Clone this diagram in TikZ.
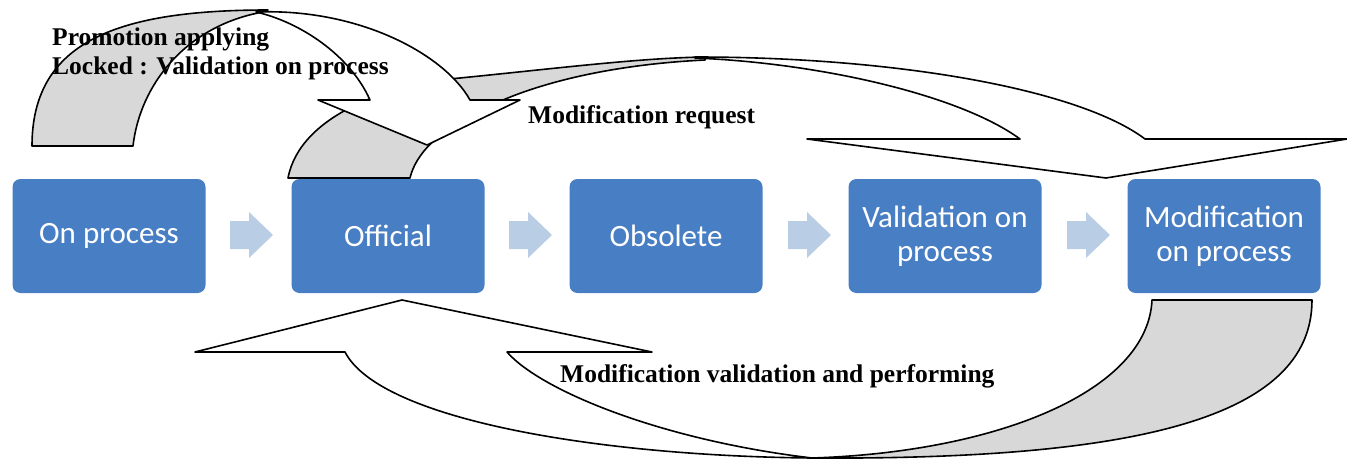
\documentclass[tikz,border=0pt]{standalone}
\usepackage{fontspec}
\setmainfont{Liberation Serif}
\newfontfamily\boxfont{Carlito}
\definecolor{boxblue}{RGB}{72,126,195}
\definecolor{chevblue}{RGB}{185,205,229}
\definecolor{bandgrey}{RGB}{216,216,216}
\begin{document}
\begin{tikzpicture}[x=1pt,y=-1pt,
  stagebox/.style={rounded corners=8pt,fill=boxblue,text=white,minimum width=193pt,minimum height=114pt,inner sep=0pt,align=center,font=\boxfont\fontsize{31}{34}\selectfont},
  band/.style={draw=black,line width=1.6pt,line join=round},
  backband/.style={band,fill=bandgrey},
  frontband/.style={band,fill=white},
  chev/.style={fill=chevblue,draw=none},
  lbl/.style={anchor=base west,inner sep=0pt,font=\bfseries\fontsize{25.5}{21}\selectfont}]
\useasboundingbox (0,0) rectangle (1347,458);
% stage boxes
\node[stagebox] (onproc) at (109,236) {On process};
\node[stagebox] (official) at (388,236) {Official};
\node[stagebox] (obsolete) at (666,236) {Obsolete};
\node[stagebox] (valid) at (945,236) {Validation on\\process};
\node[stagebox] (modif) at (1224,236) {Modification\\on process};
% chevrons
\foreach \cx in {230,509,788,1067}{
  \fill[chev] (\cx,221) -- (\cx+19,221) -- (\cx+19,212) -- (\cx+43,235) -- (\cx+19,258) -- (\cx+19,249) -- (\cx,249) -- cycle;
}
% arrow 3: Modification validation and performing
\draw[backband] (1152,300) -- (1312,300) .. controls (1312,420) and (1130,460) .. (812,458)
  .. controls (1000,452) and (1148,390) .. (1152,300) -- cycle;
\draw[frontband] (812,458) .. controls (600,456) and (380,420) .. (345,352) -- (195,352) -- (402,300)
  -- (652,352) -- (507,352) .. controls (540,390) and (660,440) .. (812,458) -- cycle;
% arrow 2: Modification request
\draw[backband] (288,178) .. controls (300,115) and (390,84) .. (460,78)
  .. controls (560,68) and (640,58) .. (705,57) -- (705,60)
  .. controls (620,64) and (550,80) .. (503,100)
  .. controls (455,120) and (418,145) .. (410,178) -- cycle;
\draw[frontband] (695,57) .. controls (900,57) and (1080,90) .. (1145,139) -- (1347,139) -- (1106,178)
  -- (807,139) -- (1020,139) .. controls (960,95) and (820,63) .. (695,58) -- cycle;
% arrow 1: Promotion applying
\draw[backband] (32,146) .. controls (32,40) and (120,10) .. (268,10) -- (258,13)
  .. controls (185,28) and (140,85) .. (133,146) -- cycle;
\draw[frontband] (256,12) .. controls (360,8) and (445,55) .. (470,100) -- (520,100) -- (427,145)
  -- (318,100) -- (370,100) .. controls (350,55) and (300,22) .. (256,12) -- cycle;
% labels
\node[lbl] (prom1) at (52,45) {Promotion applying};
\node[lbl] (prom2) at (52,74) {Locked : Validation on process};
\node[lbl] (modreq) at (528,123) {Modification request};
\node[lbl] (modval) at (560,382) {Modification validation and performing};
\end{tikzpicture}
\end{document}
